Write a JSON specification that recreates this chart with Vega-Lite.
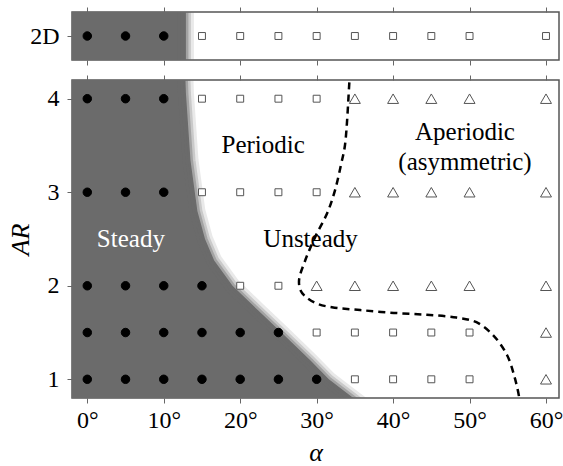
{
  "$schema": "https://vega.github.io/schema/vega-lite/v6.json",
  "padding": {"left": 6, "top": 5, "right": 0, "bottom": 0},
  "bounds": "flush",
  "spacing": 20,
  "config": {
    "font": "Liberation Serif",
    "view": {"stroke": "#555555", "strokeWidth": 1.5},
    "axis": {
      "labelFont": "Liberation Serif", "titleFont": "Liberation Serif",
      "labelColor": "#000000", "titleColor": "#000000",
      "tickColor": "#666666", "tickSize": 5, "domain": false, "grid": false,
      "labelFontSize": 24, "titleFontSize": 26, "titleFontWeight": "normal", "titleFontStyle": "italic"
    }
  },
  "datasets": {
    "region2d": [{"a0": -2, "a1": 12.9}],
    "edge2d": [{"alpha": 12.9}],
    "pts2d": [
      {"case": "2D", "alpha": 0, "regime": "Steady"},
      {"case": "2D", "alpha": 5, "regime": "Steady"},
      {"case": "2D", "alpha": 10, "regime": "Steady"},
      {"case": "2D", "alpha": 15, "regime": "Periodic"},
      {"case": "2D", "alpha": 20, "regime": "Periodic"},
      {"case": "2D", "alpha": 25, "regime": "Periodic"},
      {"case": "2D", "alpha": 30, "regime": "Periodic"},
      {"case": "2D", "alpha": 35, "regime": "Periodic"},
      {"case": "2D", "alpha": 40, "regime": "Periodic"},
      {"case": "2D", "alpha": 45, "regime": "Periodic"},
      {"case": "2D", "alpha": 50, "regime": "Periodic"},
      {"case": "2D", "alpha": 60, "regime": "Periodic"}
    ],
    "boundary": [
      {"AR": 0.7, "alpha": 36.4},
      {"AR": 0.8, "alpha": 34.8},
      {"AR": 1.0, "alpha": 31.6},
      {"AR": 1.2, "alpha": 29.2},
      {"AR": 1.5, "alpha": 25.4},
      {"AR": 1.74, "alpha": 22.3},
      {"AR": 2.0, "alpha": 19.0},
      {"AR": 2.27, "alpha": 16.6},
      {"AR": 2.5, "alpha": 15.4},
      {"AR": 2.8, "alpha": 14.4},
      {"AR": 3.34, "alpha": 13.5},
      {"AR": 4.06, "alpha": 12.9},
      {"AR": 4.3, "alpha": 12.8}
    ],
    "dashed": [
      {"i": 1, "alpha": 34.4, "AR": 4.3},
      {"i": 2, "alpha": 34.3, "AR": 4.2},
      {"i": 3, "alpha": 33.7, "AR": 3.5},
      {"i": 4, "alpha": 33.2, "AR": 3.3},
      {"i": 5, "alpha": 32.4, "AR": 3.02},
      {"i": 6, "alpha": 31.4, "AR": 2.78},
      {"i": 7, "alpha": 29.8, "AR": 2.52},
      {"i": 8, "alpha": 28.5, "AR": 2.27},
      {"i": 9, "alpha": 27.7, "AR": 2.06},
      {"i": 10, "alpha": 27.9, "AR": 1.95},
      {"i": 11, "alpha": 28.6, "AR": 1.88},
      {"i": 12, "alpha": 30.0, "AR": 1.81},
      {"i": 13, "alpha": 32.0, "AR": 1.77},
      {"i": 14, "alpha": 35.7, "AR": 1.74},
      {"i": 15, "alpha": 40.1, "AR": 1.71},
      {"i": 16, "alpha": 44.4, "AR": 1.69},
      {"i": 17, "alpha": 48.3, "AR": 1.66},
      {"i": 18, "alpha": 50.9, "AR": 1.61},
      {"i": 19, "alpha": 53.1, "AR": 1.47},
      {"i": 20, "alpha": 54.9, "AR": 1.26},
      {"i": 21, "alpha": 55.9, "AR": 1.02},
      {"i": 22, "alpha": 56.5, "AR": 0.8},
      {"i": 23, "alpha": 56.6, "AR": 0.7}
    ],
    "pts": [
      {"AR": 4, "alpha": 0, "regime": "Steady"},
      {"AR": 4, "alpha": 5, "regime": "Steady"},
      {"AR": 4, "alpha": 10, "regime": "Steady"},
      {"AR": 4, "alpha": 15, "regime": "Periodic"},
      {"AR": 4, "alpha": 20, "regime": "Periodic"},
      {"AR": 4, "alpha": 25, "regime": "Periodic"},
      {"AR": 4, "alpha": 30, "regime": "Periodic"},
      {"AR": 4, "alpha": 35, "regime": "Aperiodic"},
      {"AR": 4, "alpha": 40, "regime": "Aperiodic"},
      {"AR": 4, "alpha": 45, "regime": "Aperiodic"},
      {"AR": 4, "alpha": 50, "regime": "Aperiodic"},
      {"AR": 4, "alpha": 60, "regime": "Aperiodic"},
      {"AR": 3, "alpha": 0, "regime": "Steady"},
      {"AR": 3, "alpha": 5, "regime": "Steady"},
      {"AR": 3, "alpha": 10, "regime": "Steady"},
      {"AR": 3, "alpha": 15, "regime": "Periodic"},
      {"AR": 3, "alpha": 20, "regime": "Periodic"},
      {"AR": 3, "alpha": 25, "regime": "Periodic"},
      {"AR": 3, "alpha": 30, "regime": "Periodic"},
      {"AR": 3, "alpha": 35, "regime": "Aperiodic"},
      {"AR": 3, "alpha": 40, "regime": "Aperiodic"},
      {"AR": 3, "alpha": 45, "regime": "Aperiodic"},
      {"AR": 3, "alpha": 50, "regime": "Aperiodic"},
      {"AR": 3, "alpha": 60, "regime": "Aperiodic"},
      {"AR": 2, "alpha": 0, "regime": "Steady"},
      {"AR": 2, "alpha": 5, "regime": "Steady"},
      {"AR": 2, "alpha": 10, "regime": "Steady"},
      {"AR": 2, "alpha": 15, "regime": "Steady"},
      {"AR": 2, "alpha": 20, "regime": "Periodic"},
      {"AR": 2, "alpha": 25, "regime": "Periodic"},
      {"AR": 2, "alpha": 30, "regime": "Aperiodic"},
      {"AR": 2, "alpha": 35, "regime": "Aperiodic"},
      {"AR": 2, "alpha": 40, "regime": "Aperiodic"},
      {"AR": 2, "alpha": 45, "regime": "Aperiodic"},
      {"AR": 2, "alpha": 50, "regime": "Aperiodic"},
      {"AR": 2, "alpha": 60, "regime": "Aperiodic"},
      {"AR": 1.5, "alpha": 0, "regime": "Steady"},
      {"AR": 1.5, "alpha": 5, "regime": "Steady"},
      {"AR": 1.5, "alpha": 10, "regime": "Steady"},
      {"AR": 1.5, "alpha": 15, "regime": "Steady"},
      {"AR": 1.5, "alpha": 20, "regime": "Steady"},
      {"AR": 1.5, "alpha": 25, "regime": "Steady"},
      {"AR": 1.5, "alpha": 30, "regime": "Periodic"},
      {"AR": 1.5, "alpha": 35, "regime": "Periodic"},
      {"AR": 1.5, "alpha": 40, "regime": "Periodic"},
      {"AR": 1.5, "alpha": 45, "regime": "Periodic"},
      {"AR": 1.5, "alpha": 50, "regime": "Periodic"},
      {"AR": 1.5, "alpha": 60, "regime": "Aperiodic"},
      {"AR": 1, "alpha": 0, "regime": "Steady"},
      {"AR": 1, "alpha": 5, "regime": "Steady"},
      {"AR": 1, "alpha": 10, "regime": "Steady"},
      {"AR": 1, "alpha": 15, "regime": "Steady"},
      {"AR": 1, "alpha": 20, "regime": "Steady"},
      {"AR": 1, "alpha": 25, "regime": "Steady"},
      {"AR": 1, "alpha": 30, "regime": "Steady"},
      {"AR": 1, "alpha": 35, "regime": "Periodic"},
      {"AR": 1, "alpha": 40, "regime": "Periodic"},
      {"AR": 1, "alpha": 45, "regime": "Periodic"},
      {"AR": 1, "alpha": 50, "regime": "Periodic"},
      {"AR": 1, "alpha": 60, "regime": "Aperiodic"}
    ],
    "labelsWhite": [
      {"label": "Steady", "alpha": 5.7, "AR": 2.5}
    ],
    "labelsBlack": [
      {"label": "Periodic", "alpha": 23.0, "AR": 3.5},
      {"label": "Unsteady", "alpha": 29.2, "AR": 2.5},
      {"label": "Aperiodic", "alpha": 49.4, "AR": 3.64},
      {"label": "(asymmetric)", "alpha": 49.4, "AR": 3.32}
    ]
  },
  "vconcat": [
    {
      "width": 487,
      "height": 48,
      "resolve": {"axis": {"x": "independent"}},
      "layer": [
        {
          "data": {"name": "region2d"},
          "mark": {"type": "rect", "color": "#6b6b6b", "clip": true},
          "encoding": {
            "x": {"field": "a0", "type": "quantitative", "scale": {"domain": [-2, 61.7], "nice": false, "zero": false},
                  "axis": {"orient": "bottom", "labels": false, "title": null, "values": [0, 10, 20, 30, 40, 50, 60]}},
            "x2": {"field": "a1"}
          }
        },
        {
          "data": {"name": "edge2d"},
          "mark": {"type": "rule", "color": "#6b6b6b", "strokeWidth": 16, "opacity": 0.15, "clip": true},
          "encoding": {"x": {"field": "alpha", "type": "quantitative", "axis": null}}
        },
        {
          "data": {"name": "edge2d"},
          "mark": {"type": "rule", "color": "#6b6b6b", "strokeWidth": 10, "opacity": 0.25, "clip": true},
          "encoding": {"x": {"field": "alpha", "type": "quantitative", "axis": null}}
        },
        {
          "data": {"name": "edge2d"},
          "mark": {"type": "rule", "color": "#6b6b6b", "strokeWidth": 5, "opacity": 0.4, "clip": true},
          "encoding": {"x": {"field": "alpha", "type": "quantitative", "axis": null}}
        },
        {
          "data": {"name": "pts2d"},
          "mark": {"type": "point", "opacity": 1, "strokeWidth": 1},
          "encoding": {
            "x": {"field": "alpha", "type": "quantitative",
                  "axis": {"orient": "top", "labels": false, "title": null, "values": [0, 10, 20, 30, 40, 50, 60]}},
            "y": {"field": "case", "type": "nominal", "axis": {"title": null, "labelPadding": 8}},
            "shape": {"field": "regime", "type": "nominal", "legend": null,
                      "scale": {"domain": ["Steady", "Periodic", "Aperiodic"], "range": ["circle", "square", "triangle-up"]}},
            "fill": {"field": "regime", "type": "nominal", "legend": null,
                     "scale": {"domain": ["Steady", "Periodic", "Aperiodic"], "range": ["#000000", "#ffffff", "#ffffff"]}},
            "stroke": {"field": "regime", "type": "nominal", "legend": null,
                       "scale": {"domain": ["Steady", "Periodic", "Aperiodic"], "range": ["#000000", "#555555", "#555555"]}},
            "size": {"field": "regime", "type": "nominal", "legend": null,
                     "scale": {"type": "ordinal", "domain": ["Steady", "Periodic", "Aperiodic"], "range": [72, 48, 120]}}
          }
        }
      ]
    },
    {
      "width": 487,
      "height": 318,
      "resolve": {"axis": {"x": "independent"}},
      "layer": [
        {
          "data": {"name": "boundary"},
          "mark": {"type": "area", "orient": "horizontal", "color": "#6b6b6b", "clip": true},
          "encoding": {
            "y": {"field": "AR", "type": "quantitative", "scale": {"domain": [0.8, 4.2], "nice": false, "zero": false},
                  "axis": {"values": [1, 2, 3, 4], "format": "d", "title": "AR", "labelPadding": 8, "titlePadding": 14}},
            "x": {"field": "alpha", "type": "quantitative", "scale": {"domain": [-2, 61.7], "nice": false, "zero": false},
                  "axis": {"orient": "bottom", "values": [0, 10, 20, 30, 40, 50, 60], "labelExpr": "datum.value + '°'",
                           "title": "α", "labelPadding": 5, "titlePadding": 7}},
            "x2": {"datum": -2}
          }
        },
        {
          "data": {"name": "boundary"},
          "mark": {"type": "line", "color": "#6b6b6b", "strokeWidth": 16, "opacity": 0.15, "clip": true},
          "encoding": {
            "x": {"field": "alpha", "type": "quantitative", "axis": null},
            "y": {"field": "AR", "type": "quantitative"},
            "order": {"field": "AR"}
          }
        },
        {
          "data": {"name": "boundary"},
          "mark": {"type": "line", "color": "#6b6b6b", "strokeWidth": 10, "opacity": 0.25, "clip": true},
          "encoding": {
            "x": {"field": "alpha", "type": "quantitative", "axis": null},
            "y": {"field": "AR", "type": "quantitative"},
            "order": {"field": "AR"}
          }
        },
        {
          "data": {"name": "boundary"},
          "mark": {"type": "line", "color": "#6b6b6b", "strokeWidth": 5, "opacity": 0.4, "clip": true},
          "encoding": {
            "x": {"field": "alpha", "type": "quantitative", "axis": null},
            "y": {"field": "AR", "type": "quantitative"},
            "order": {"field": "AR"}
          }
        },
        {
          "data": {"name": "dashed"},
          "mark": {"type": "line", "color": "#000000", "strokeWidth": 2.5, "strokeDash": [7, 5], "interpolate": "catmull-rom", "clip": true},
          "encoding": {
            "x": {"field": "alpha", "type": "quantitative", "axis": null},
            "y": {"field": "AR", "type": "quantitative"},
            "order": {"field": "i"}
          }
        },
        {
          "data": {"name": "pts"},
          "mark": {"type": "point", "opacity": 1, "strokeWidth": 1},
          "encoding": {
            "x": {"field": "alpha", "type": "quantitative",
                  "axis": {"orient": "top", "labels": false, "title": null, "values": [0, 10, 20, 30, 40, 50, 60]}},
            "y": {"field": "AR", "type": "quantitative"},
            "shape": {"field": "regime", "type": "nominal", "legend": null,
                      "scale": {"domain": ["Steady", "Periodic", "Aperiodic"], "range": ["circle", "square", "triangle-up"]}},
            "fill": {"field": "regime", "type": "nominal", "legend": null,
                     "scale": {"domain": ["Steady", "Periodic", "Aperiodic"], "range": ["#000000", "#ffffff", "#ffffff"]}},
            "stroke": {"field": "regime", "type": "nominal", "legend": null,
                       "scale": {"domain": ["Steady", "Periodic", "Aperiodic"], "range": ["#000000", "#555555", "#555555"]}},
            "size": {"field": "regime", "type": "nominal", "legend": null,
                     "scale": {"type": "ordinal", "domain": ["Steady", "Periodic", "Aperiodic"], "range": [72, 48, 120]}}
          }
        },
        {
          "data": {"name": "labelsWhite"},
          "mark": {"type": "text", "color": "#ffffff", "fontSize": 25, "font": "Liberation Serif", "baseline": "middle"},
          "encoding": {
            "x": {"field": "alpha", "type": "quantitative", "axis": null},
            "y": {"field": "AR", "type": "quantitative"},
            "text": {"field": "label"}
          }
        },
        {
          "data": {"name": "labelsBlack"},
          "mark": {"type": "text", "color": "#000000", "fontSize": 25, "font": "Liberation Serif", "baseline": "middle"},
          "encoding": {
            "x": {"field": "alpha", "type": "quantitative", "axis": null},
            "y": {"field": "AR", "type": "quantitative"},
            "text": {"field": "label"}
          }
        }
      ]
    }
  ]
}
